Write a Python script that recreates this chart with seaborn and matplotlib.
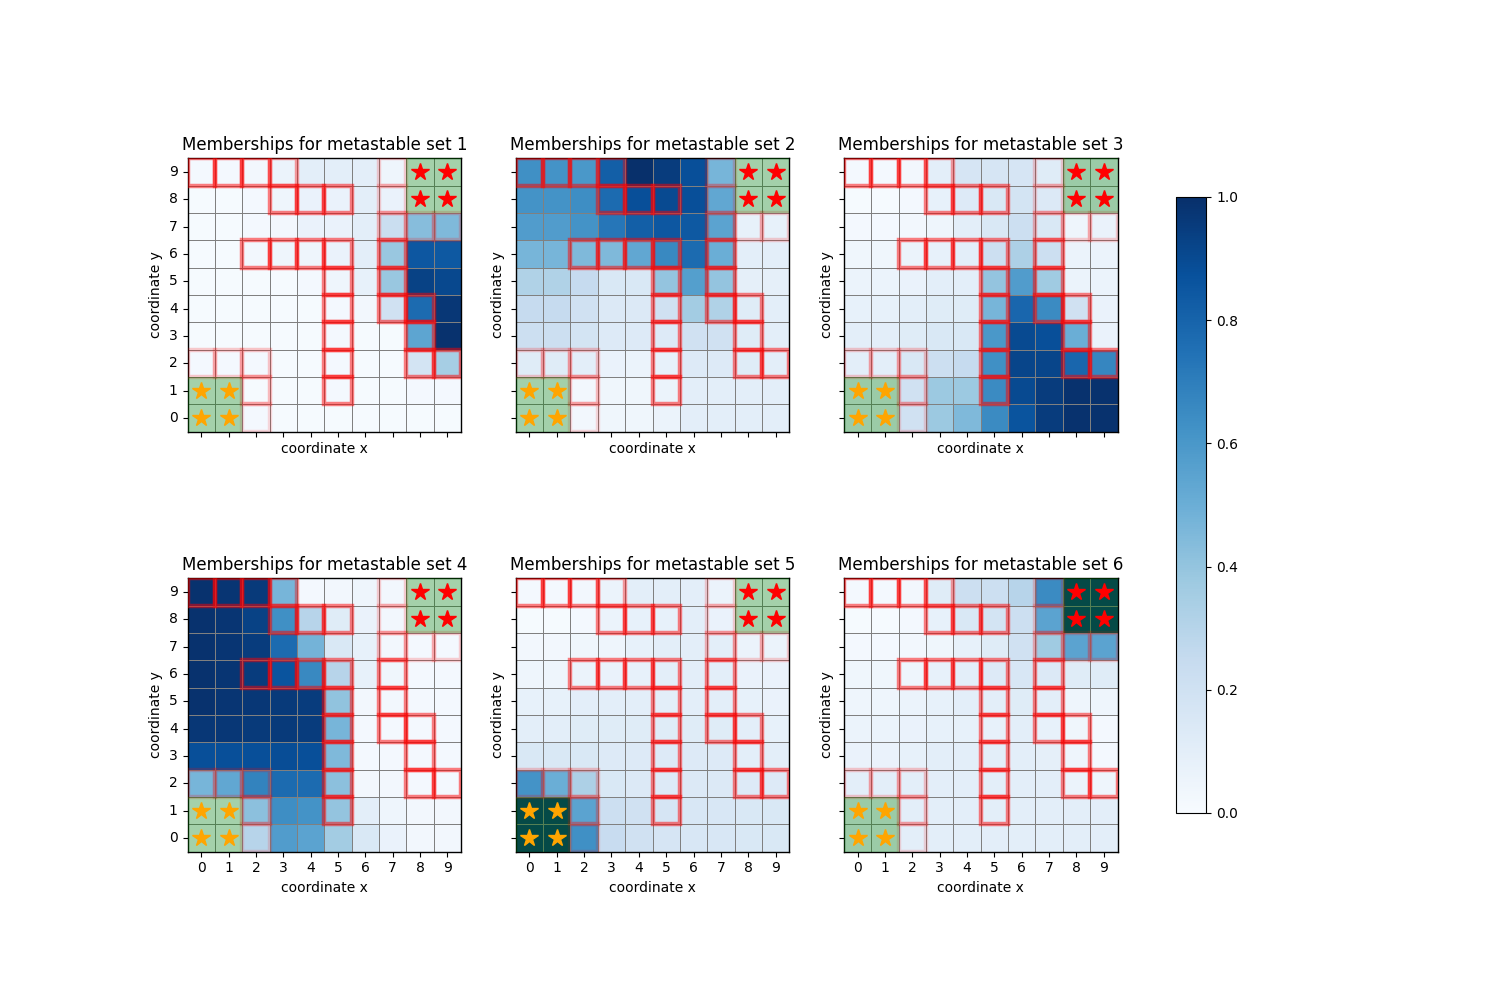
import numpy as np
import matplotlib
matplotlib.use("Agg")
import matplotlib.pyplot as plt
from matplotlib.patches import Rectangle
import seaborn as sns

# Membership values, rows written from y=9 (top) down to y=0, columns x=0..9
set1 = [
    [0.02, 0.02, 0.03, 0.06, 0.10, 0.10, 0.10, 0.05, 0.01, 0.01],
    [0.01, 0.01, 0.02, 0.05, 0.07, 0.07, 0.10, 0.07, 0.01, 0.01],
    [0.01, 0.01, 0.02, 0.03, 0.07, 0.07, 0.10, 0.23, 0.43, 0.45],
    [0.01, 0.01, 0.03, 0.05, 0.05, 0.07, 0.10, 0.39, 0.85, 0.84],
    [0.01, 0.01, 0.01, 0.01, 0.02, 0.05, 0.08, 0.39, 0.93, 0.91],
    [0.01, 0.01, 0.01, 0.01, 0.01, 0.02, 0.03, 0.20, 0.77, 0.97],
    [0.01, 0.01, 0.01, 0.01, 0.01, 0.02, 0.01, 0.01, 0.54, 0.99],
    [0.02, 0.02, 0.02, 0.01, 0.01, 0.02, 0.01, 0.01, 0.18, 0.35],
    [0.01, 0.01, 0.01, 0.01, 0.01, 0.02, 0.01, 0.01, 0.02, 0.02],
    [0.01, 0.01, 0.02, 0.01, 0.01, 0.01, 0.01, 0.01, 0.01, 0.01],
]
set2 = [
    [0.63, 0.62, 0.60, 0.82, 1.00, 0.95, 0.88, 0.47, 0.02, 0.02],
    [0.62, 0.62, 0.64, 0.77, 0.88, 0.90, 0.88, 0.53, 0.02, 0.02],
    [0.58, 0.58, 0.62, 0.73, 0.82, 0.85, 0.84, 0.55, 0.08, 0.08],
    [0.47, 0.47, 0.45, 0.45, 0.53, 0.66, 0.77, 0.50, 0.10, 0.10],
    [0.32, 0.32, 0.25, 0.15, 0.15, 0.40, 0.57, 0.40, 0.09, 0.09],
    [0.25, 0.25, 0.20, 0.14, 0.14, 0.20, 0.36, 0.32, 0.12, 0.10],
    [0.22, 0.22, 0.18, 0.13, 0.13, 0.13, 0.20, 0.20, 0.12, 0.10],
    [0.12, 0.12, 0.10, 0.07, 0.06, 0.08, 0.13, 0.13, 0.12, 0.10],
    [0.02, 0.02, 0.03, 0.04, 0.04, 0.06, 0.10, 0.10, 0.10, 0.10],
    [0.02, 0.02, 0.03, 0.04, 0.04, 0.06, 0.10, 0.10, 0.10, 0.10],
]
set3 = [
    [0.02, 0.02, 0.03, 0.10, 0.17, 0.17, 0.17, 0.12, 0.08, 0.08],
    [0.01, 0.01, 0.02, 0.08, 0.13, 0.15, 0.18, 0.14, 0.08, 0.08],
    [0.02, 0.02, 0.03, 0.05, 0.10, 0.15, 0.22, 0.15, 0.05, 0.07],
    [0.04, 0.04, 0.06, 0.08, 0.10, 0.22, 0.33, 0.22, 0.06, 0.06],
    [0.06, 0.06, 0.07, 0.10, 0.10, 0.40, 0.58, 0.37, 0.06, 0.06],
    [0.08, 0.08, 0.10, 0.12, 0.12, 0.47, 0.79, 0.65, 0.20, 0.07],
    [0.10, 0.10, 0.12, 0.15, 0.15, 0.60, 0.90, 0.88, 0.50, 0.07],
    [0.10, 0.10, 0.15, 0.22, 0.25, 0.63, 0.92, 0.92, 0.79, 0.67],
    [0.08, 0.08, 0.20, 0.38, 0.38, 0.65, 0.90, 0.95, 0.99, 0.99],
    [0.08, 0.08, 0.20, 0.38, 0.45, 0.65, 0.86, 0.95, 0.99, 0.99],
]
set4 = [
    [0.99, 0.98, 0.96, 0.47, 0.02, 0.03, 0.05, 0.03, 0.01, 0.01],
    [0.99, 0.98, 0.93, 0.63, 0.30, 0.12, 0.07, 0.03, 0.01, 0.01],
    [0.99, 0.98, 0.95, 0.77, 0.48, 0.15, 0.08, 0.03, 0.02, 0.02],
    [0.99, 0.98, 0.95, 0.86, 0.66, 0.30, 0.08, 0.04, 0.02, 0.02],
    [0.99, 0.98, 0.97, 0.96, 0.95, 0.41, 0.03, 0.03, 0.02, 0.02],
    [0.97, 0.97, 0.96, 0.96, 0.95, 0.47, 0.02, 0.02, 0.02, 0.02],
    [0.88, 0.88, 0.88, 0.89, 0.88, 0.45, 0.02, 0.02, 0.02, 0.02],
    [0.47, 0.53, 0.68, 0.77, 0.77, 0.42, 0.03, 0.03, 0.02, 0.02],
    [0.01, 0.01, 0.42, 0.64, 0.62, 0.40, 0.10, 0.05, 0.03, 0.03],
    [0.01, 0.01, 0.30, 0.58, 0.55, 0.36, 0.15, 0.07, 0.03, 0.03],
]
set5 = [
    [0.02, 0.02, 0.03, 0.06, 0.10, 0.10, 0.10, 0.06, 0.01, 0.01],
    [0.01, 0.01, 0.02, 0.06, 0.08, 0.08, 0.10, 0.07, 0.01, 0.01],
    [0.03, 0.03, 0.04, 0.05, 0.08, 0.10, 0.10, 0.10, 0.06, 0.06],
    [0.05, 0.05, 0.06, 0.07, 0.08, 0.10, 0.10, 0.10, 0.07, 0.07],
    [0.08, 0.08, 0.10, 0.10, 0.10, 0.10, 0.10, 0.10, 0.08, 0.07],
    [0.10, 0.10, 0.12, 0.12, 0.12, 0.12, 0.12, 0.12, 0.10, 0.08],
    [0.15, 0.15, 0.15, 0.13, 0.13, 0.13, 0.13, 0.13, 0.10, 0.10],
    [0.62, 0.50, 0.33, 0.15, 0.14, 0.13, 0.14, 0.14, 0.13, 0.13],
    [1.00, 1.00, 0.55, 0.22, 0.20, 0.17, 0.16, 0.16, 0.15, 0.15],
    [1.00, 1.00, 0.63, 0.24, 0.20, 0.17, 0.16, 0.16, 0.15, 0.15],
]
set6 = [
    [0.02, 0.02, 0.03, 0.12, 0.22, 0.22, 0.30, 0.65, 1.00, 1.00],
    [0.01, 0.01, 0.02, 0.08, 0.15, 0.18, 0.22, 0.55, 1.00, 1.00],
    [0.02, 0.02, 0.03, 0.04, 0.08, 0.12, 0.20, 0.37, 0.55, 0.55],
    [0.04, 0.04, 0.05, 0.08, 0.10, 0.13, 0.16, 0.14, 0.12, 0.12],
    [0.05, 0.05, 0.06, 0.08, 0.10, 0.10, 0.12, 0.10, 0.05, 0.05],
    [0.06, 0.06, 0.07, 0.08, 0.08, 0.08, 0.10, 0.08, 0.04, 0.02],
    [0.07, 0.07, 0.08, 0.10, 0.10, 0.10, 0.10, 0.09, 0.05, 0.02],
    [0.10, 0.10, 0.10, 0.10, 0.10, 0.10, 0.10, 0.10, 0.06, 0.05],
    [0.08, 0.08, 0.10, 0.10, 0.10, 0.10, 0.10, 0.10, 0.10, 0.10],
    [0.08, 0.08, 0.10, 0.10, 0.10, 0.10, 0.10, 0.10, 0.10, 0.10],
]
membership_sets = [set1, set2, set3, set4, set5, set6]
set_names = ["1", "2", "3", "4", "5", "6"]
tick_labels = [str(i) for i in range(10)]

# Wall cells (x, y) and their strength (shown as outline opacity)
wall_x = [0, 1, 2, 3, 3, 4, 5, 2, 3, 4, 5, 7, 5, 7, 5, 7, 8, 5, 8, 5, 8, 9, 5,
          7, 7, 7, 8, 9, 0, 1, 2, 2, 2]
wall_y = [9, 9, 9, 9, 8, 8, 8, 6, 6, 6, 6, 6, 5, 5, 4, 4, 4, 3, 3, 2, 2, 2, 1,
          9, 8, 7, 7, 7, 2, 2, 2, 1, 0]
wall_strength = [0.5, 0.5, 0.5, 0.38, 0.5, 0.5, 0.5, 0.5, 0.5, 0.5, 0.5,
                 0.5, 0.5, 0.5, 0.5, 0.5, 0.5, 0.5, 0.5, 0.5, 0.5, 0.5,
                 0.5, 0.18, 0.18, 0.28, 0.18, 0.18, 0.2, 0.2, 0.22, 0.26, 0.14]

# Start (A) and target (B) cells
start_x = [0, 1, 0, 1]
start_y = [0, 0, 1, 1]
target_x = [8, 9, 8, 9]
target_y = [8, 8, 9, 9]

fig, axes = plt.subplots(2, 3, figsize=(15, 10))

for k, ax in enumerate(axes.ravel()):
    data = np.array(membership_sets[k])[::-1]  # row index = y
    sns.heatmap(data, ax=ax, cmap="Blues", vmin=0, vmax=1, cbar=False,
                square=True, linewidths=0.6, linecolor="gray",
                xticklabels=tick_labels, yticklabels=tick_labels)
    ax.set_ylim(0, 10)
    for s in ax.spines.values():
        s.set_visible(True)
        s.set_linewidth(1.0)
    plt.setp(ax.get_yticklabels(), rotation=0, va="center")
    plt.setp(ax.get_xticklabels(), rotation=0)
    ax.tick_params(length=3.5, width=0.8)

    for wx, wy, ws in zip(wall_x, wall_y, wall_strength):
        ax.add_patch(Rectangle((wx, wy), 1, 1, facecolor="none",
                               edgecolor="red", linewidth=3.2, alpha=ws,
                               zorder=3))
    for sx, sy in zip(start_x + target_x, start_y + target_y):
        ax.add_patch(Rectangle((sx, sy), 1, 1, facecolor="green",
                               edgecolor="none", alpha=0.33, zorder=4))
    ax.plot(np.array(start_x) + 0.5, np.array(start_y) + 0.5, linestyle="none",
            marker="*", color="orange", markersize=13, zorder=5)
    ax.plot(np.array(target_x) + 0.5, np.array(target_y) + 0.5, linestyle="none",
            marker="*", color="red", markersize=13, zorder=5)

    ax.set_title("Memberships for metastable set " + set_names[k], fontsize=12)
    ax.set_xlabel("coordinate x")
    ax.set_ylabel("coordinate y")
    row, col = divmod(k, 3)
    if row == 0:
        ax.tick_params(labelbottom=False)
    if col > 0:
        ax.tick_params(labelleft=False)

fig.colorbar(axes[0, 0].collections[0], ax=axes.ravel().tolist(), shrink=0.8)

fig.savefig("out.png", dpi=100)
